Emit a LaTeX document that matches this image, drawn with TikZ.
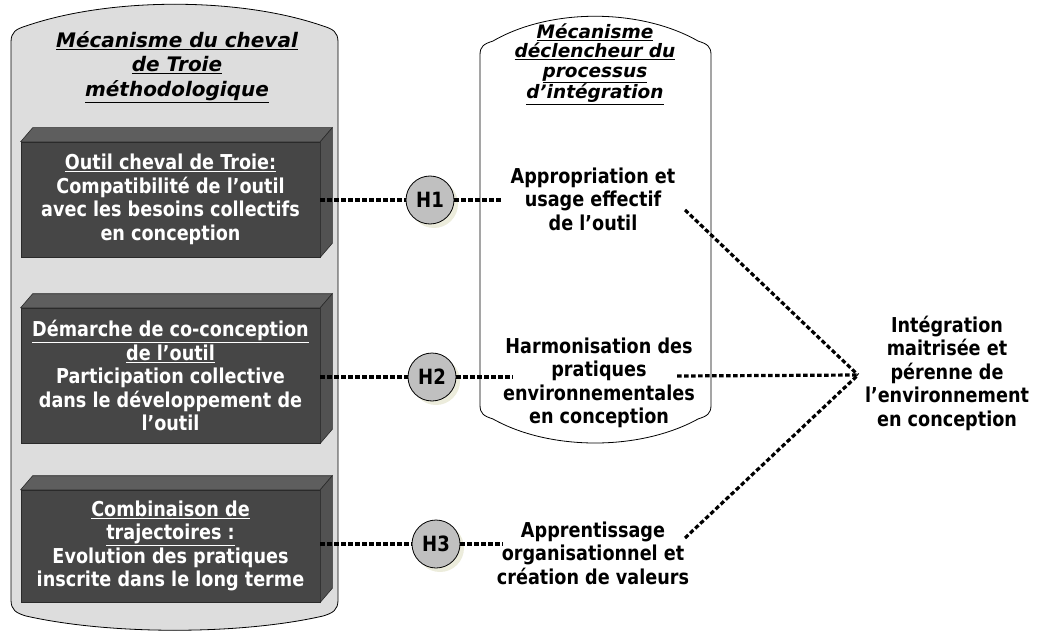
\documentclass[tikz,border=0pt]{standalone}
\usepackage{fontspec}
\setmainfont{DejaVu Sans}[FakeStretch=0.86]
\newfontfamily\titlefont{DejaVu Sans}
\usetikzlibrary{shadows}
\definecolor{cylgray}{HTML}{DDDDDD}
\definecolor{boxfrontc}{HTML}{464646}
\definecolor{boxtopc}{HTML}{5E5E5E}
\definecolor{boxsidec}{HTML}{525252}
\definecolor{boxedge}{HTML}{2A2A2A}
\definecolor{hypfill}{HTML}{C0C0C0}
\definecolor{shadowc}{HTML}{ECECDC}
\tikzset{
  cylshape/.style={draw=black, line width=0.8pt},
  boxfront/.style={rectangle, fill=boxfrontc, draw=boxedge, line width=0.6pt,
    minimum width=299pt, inner sep=0pt, align=center, text=white,
    font=\fontsize{20.5}{23.5}\selectfont\bfseries},
  boxtop/.style={fill=boxtopc, draw=boxedge, line width=0.6pt},
  boxside/.style={fill=boxsidec, draw=boxedge, line width=0.6pt},
  hyp/.style={circle, fill=hypfill, draw=black, line width=0.8pt,
    minimum size=48pt, inner sep=0pt, font=\fontsize{21}{23.5}\selectfont\bfseries,
    drop shadow={fill=shadowc, opacity=1, shadow xshift=4pt, shadow yshift=-4pt}},
  maintext/.style={align=center, inner sep=0pt, font=\fontsize{20.5}{23.5}\selectfont\bfseries},
  titletext/.style={align=center, inner sep=0pt},
  dotline/.style={line width=3.2pt, dash pattern=on 4.5pt off 2.5pt, black}
}
\begin{document}
\begin{tikzpicture}[x=1pt,y=-1pt]
\useasboundingbox (0,0) rectangle (1038,631);
% left cylinder
\draw[cylshape, fill=cylgray] (11,600) -- (11,42)
  .. controls (11,32) and (16,29) .. (26,26)
  .. controls (110,-3) and (240,-3) .. (323,26)
  .. controls (333,29) and (338,32) .. (338,42) -- (338,600)
  .. controls (338,610) and (333,613) .. (323,616)
  .. controls (240,635) and (110,635) .. (26,616)
  .. controls (16,613) and (11,610) .. (11,600) -- cycle;
% right cylinder
\draw[cylshape, fill=white] (480,405) -- (480,55)
  .. controls (480,46) and (484,44) .. (493,41)
  .. controls (550,8) and (640,8) .. (698,41)
  .. controls (707,44) and (711,46) .. (711,55) -- (711,405)
  .. controls (711,414) and (707,416) .. (698,419)
  .. controls (640,451) and (550,451) .. (493,419)
  .. controls (484,416) and (480,414) .. (480,405) -- cycle;
% titles
\node[titletext, font=\fontsize{20}{24.5}\titlefont\bfseries\itshape] (ltitle) at (177,67)
  {\underline{Mécanisme du cheval}\\\underline{de Troie}\\\underline{méthodologique}};
\node[titletext, font=\fontsize{18.5}{19.5}\titlefont\bfseries\itshape] (rtitle) at (595,64)
  {\underline{Mécanisme}\\\underline{déclencheur du}\\\underline{processus}\\\underline{d’intégration}};
% boxes
\node[boxfront, minimum height=115pt] (b1) at (170.5,199.5)
  {\underline{Outil cheval de Troie:}\\Compatibilité de l’outil\\avec les besoins collectifs\\en conception};
\node[boxfront, minimum height=135pt] (b2) at (170.5,375.5)
  {\underline{Démarche de co-conception}\\\underline{de l’outil}\\Participation collective\\dans le développement de\\l’outil};
\node[boxfront, minimum height=112pt] (b3) at (170.5,546)
  {\underline{Combinaison de}\\\underline{trajectoires :}\\Evolution des pratiques\\inscrite dans le long terme};
\foreach \b in {b1,b2,b3}{
  \draw[boxtop] (\b.north west) -- ([shift={(12,-14)}]\b.north west) -- ([shift={(12,-14)}]\b.north east) -- (\b.north east) -- cycle;
  \draw[boxside] (\b.north east) -- ([shift={(12,-14)}]\b.north east) -- ([shift={(12,-14)}]\b.south east) -- (\b.south east) -- cycle;
}
% hypothesis circles
\node[hyp] (h1) at (430,200) {H1};
\node[hyp] (h2) at (432,377) {H2};
\node[hyp] (h3) at (436,544) {H3};
% right texts
\node[maintext] (t1) at (593,199) {Appropriation et\\usage effectif\\de l’outil};
\node[maintext] (t2) at (599,383) {Harmonisation des\\pratiques\\environnementales\\en conception};
\node[maintext] (t3) at (593,553) {Apprentissage\\organisationnel et\\création de valeurs};
\node[maintext] (t4) at (947,373) {Intégration\\maitrisée et\\pérenne de\\l’environnement\\en conception};
% connector ends
\coordinate (e1) at (503,200);
\coordinate (e2) at (513,377);
\coordinate (e3) at (503,544);
\coordinate (s1) at (685,210);
\coordinate (s2) at (677,376);
\coordinate (s3) at (685,538);
\coordinate (c) at (858,375);
% connectors
\draw[dotline] (h1.west -| b1.east) -- (h1.west);
\draw[dotline] (h1.east) -- (e1);
\draw[dotline] (h2.west -| b2.east) -- (h2.west);
\draw[dotline] (h2.east) -- (e2);
\draw[dotline] (h3.west -| b3.east) -- (h3.west);
\draw[dotline] (h3.east) -- (e3);
\draw[dotline] (s1) -- (c);
\draw[dotline] (s2) -- (c);
\draw[dotline] (s3) -- (c);
\end{tikzpicture}
\end{document}
